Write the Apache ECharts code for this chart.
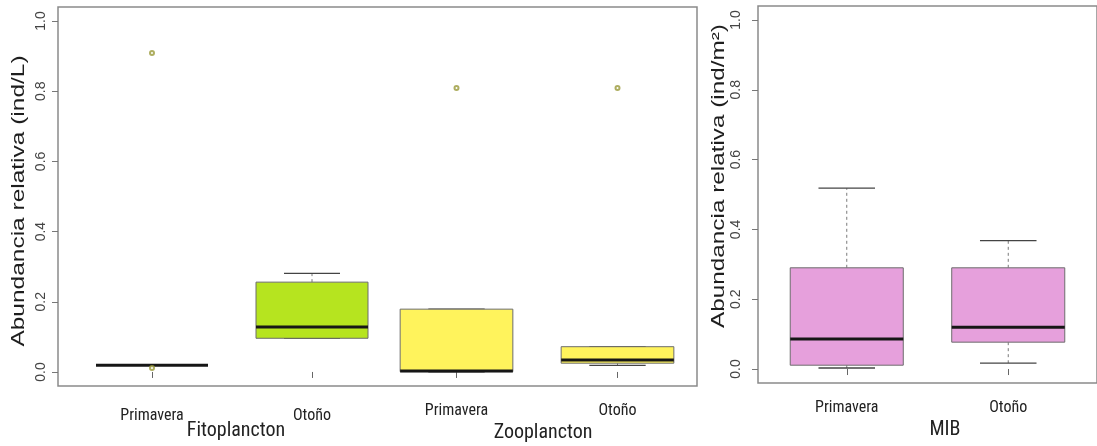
<!DOCTYPE html>
<html>
<head>
<meta charset="utf-8">
<script src="https://cdn.jsdelivr.net/npm/echarts@6/dist/echarts.min.js"></script>
<style>
  html, body { margin: 0; padding: 0; background: #fff; }
  #chart { width: 1097px; height: 446px; }
</style>
</head>
<body>
<div id="chart"></div>
<script>
// Categories
const seasons = ['Primavera', 'Otoño'];

// Box statistics per season: [lower whisker, Q1, median, Q3, upper whisker]
const fitoStats = [
  [0.019, 0.019, 0.019, 0.019, 0.019],
  [0.096, 0.096, 0.128, 0.256, 0.281]
];
const zooStats = [
  [0.000, 0.001, 0.003, 0.179, 0.179],
  [0.019, 0.025, 0.034, 0.072, 0.072]
];
const mibStats = [
  [0.003, 0.011, 0.086, 0.290, 0.518],
  [0.017, 0.077, 0.120, 0.290, 0.368]
];

// Outlying observations: [season, value]
const fitoOutliers = [['Primavera', 0.909], ['Primavera', 0.011]];
const zooOutliers = [['Primavera', 0.809], ['Otoño', 0.809]];
const mibOutliers = [];

// Y tick values
const yTicks = [0, 0.2, 0.4, 0.6, 0.8, 1.0];

const FILL_FITO = '#b6e41f';
const FILL_ZOO = '#fff35c';
const FILL_MIB = '#e6a0dc';

const narrow = "'Liberation Sans Narrow', 'Arial Narrow', 'Roboto Condensed', sans-serif";
const sans = "'Liberation Sans', Arial, Helvetica, sans-serif";

function boxRenderer(fill) {
  return function (params, api) {
    const i = api.value(0);
    const lo = api.value(1), q1 = api.value(2), med = api.value(3), q3 = api.value(4), hi = api.value(5);
    const band = api.size([1, 0])[0];
    const bw = band * 0.7;
    const cw = bw / 2;
    const pLo = api.coord([i, lo]);
    const pQ1 = api.coord([i, q1]);
    const pMed = api.coord([i, med]);
    const pQ3 = api.coord([i, q3]);
    const pHi = api.coord([i, hi]);
    const cx = pMed[0];
    const whisker = { stroke: '#7a7a7a', lineWidth: 1, lineDash: [3, 3] };
    const cap = { stroke: '#444', lineWidth: 1.3 };
    const children = [
      { type: 'line', shape: { x1: cx, y1: pQ3[1], x2: cx, y2: pHi[1] }, style: whisker },
      { type: 'line', shape: { x1: cx, y1: pQ1[1], x2: cx, y2: pLo[1] }, style: whisker },
      { type: 'line', shape: { x1: cx - cw / 2, y1: pHi[1], x2: cx + cw / 2, y2: pHi[1] }, style: cap },
      { type: 'line', shape: { x1: cx - cw / 2, y1: pLo[1], x2: cx + cw / 2, y2: pLo[1] }, style: cap },
      { type: 'rect', shape: { x: cx - bw / 2, y: pQ3[1], width: bw, height: Math.max(pQ1[1] - pQ3[1], 0) },
        style: { fill: fill, stroke: '#6d6d6d', lineWidth: 1 } },
      { type: 'line', shape: { x1: cx - bw / 2, y1: pMed[1], x2: cx + bw / 2, y2: pMed[1] },
        style: { stroke: '#161616', lineWidth: 3 } }
    ];
    return { type: 'group', children: children };
  };
}

function boxData(stats) {
  return stats.map((s, i) => [i].concat(s));
}

const hiddenY = (gi) => ({ type: 'value', gridIndex: gi, min: -0.04, max: 1.04, show: false });
const shownY = (gi, margin) => ({
  type: 'value', gridIndex: gi, min: -0.04, max: 1.04,
  splitLine: { show: false },
  axisLine: { show: false },
  axisTick: { show: true, length: 6, lineStyle: { color: '#777' }, customValues: yTicks },
  axisLabel: {
    customValues: yTicks, rotate: 90, margin: margin,
    formatter: (v) => v.toFixed(1),
    color: '#444', fontSize: 14, fontFamily: sans
  }
});
const catX = (gi, margin) => ({
  type: 'category', gridIndex: gi, data: seasons, boundaryGap: true,
  axisLine: { show: false },
  axisTick: { show: true, alignWithLabel: true, length: 6, lineStyle: { color: '#666' } },
  axisLabel: { interval: 0, margin: margin, color: '#222', fontSize: 16, fontFamily: narrow },
  splitLine: { show: false }
});
const hiddenX = (gi) => ({ type: 'category', gridIndex: gi, data: [''], show: false });

// Rotated axis title, stretched along its baseline
const axisTitle = (text, x, y, stretch) => ({
  type: 'text', x: x, y: y, rotation: Math.PI / 2, scaleX: stretch, scaleY: 1,
  style: { text: text, font: '18px ' + sans, fill: '#1e1e1e', align: 'center', verticalAlign: 'middle' }
});
const groupLabel = (text, x, y) => ({
  type: 'text', x: x, y: y,
  style: { text: text, font: '20px ' + narrow, fill: '#222', align: 'center', verticalAlign: 'middle' }
});

const chart = echarts.init(document.getElementById('chart'));
chart.setOption({
  backgroundColor: '#fff',
  animation: false,
  grid: [
    // plankton frame
    { left: 58, top: 7, right: 400, bottom: 60, show: true, borderColor: '#8a8a8a', borderWidth: 1.5, backgroundColor: 'transparent' },
    // Fitoplancton
    { left: 72, top: 7, width: 320, bottom: 60 },
    // Zooplancton
    { left: 376, top: 7, width: 322, bottom: 60 },
    // MIB frame
    { left: 758, top: 6, right: -8, bottom: 63, show: true, borderColor: '#8a8a8a', borderWidth: 1.5, backgroundColor: 'transparent' },
    // MIB
    { left: 766, top: 6, width: 323, bottom: 63 }
  ],
  xAxis: [hiddenX(0), catX(1, 22), catX(2, 17), hiddenX(3), catX(4, 17)],
  yAxis: [shownY(0, 10), hiddenY(1), hiddenY(2), shownY(3, 15), hiddenY(4)],
  series: [
    { type: 'custom', xAxisIndex: 1, yAxisIndex: 1, renderItem: boxRenderer(FILL_FITO),
      encode: { x: 0, y: [1, 2, 3, 4, 5] }, data: boxData(fitoStats) },
    { type: 'custom', xAxisIndex: 2, yAxisIndex: 2, renderItem: boxRenderer(FILL_ZOO),
      encode: { x: 0, y: [1, 2, 3, 4, 5] }, data: boxData(zooStats) },
    { type: 'custom', xAxisIndex: 4, yAxisIndex: 4, renderItem: boxRenderer(FILL_MIB),
      encode: { x: 0, y: [1, 2, 3, 4, 5] }, data: boxData(mibStats) },
    { type: 'scatter', xAxisIndex: 1, yAxisIndex: 1, data: fitoOutliers, symbol: 'emptyCircle', symbolSize: 4,
      itemStyle: { color: '#9a9a3a', borderColor: '#8f8f2e', borderWidth: 1 } },
    { type: 'scatter', xAxisIndex: 2, yAxisIndex: 2, data: zooOutliers, symbol: 'emptyCircle', symbolSize: 4,
      itemStyle: { color: '#9a9a3a', borderColor: '#8f8f2e', borderWidth: 1 } },
    { type: 'scatter', xAxisIndex: 4, yAxisIndex: 4, data: mibOutliers, symbol: 'emptyCircle', symbolSize: 4,
      itemStyle: { color: '#9a9a3a', borderColor: '#8f8f2e', borderWidth: 1 } }
  ],
  graphic: [
    axisTitle('Abundancia relativa (ind/L)', 19, 201, 1.36),
    axisTitle('Abundancia relativa (ind/m²)', 719, 176, 1.35),
    groupLabel('Fitoplancton', 236, 431),
    groupLabel('Zooplancton', 543, 433),
    groupLabel('MIB', 945, 430)
  ]
});
</script>
</body>
</html>
